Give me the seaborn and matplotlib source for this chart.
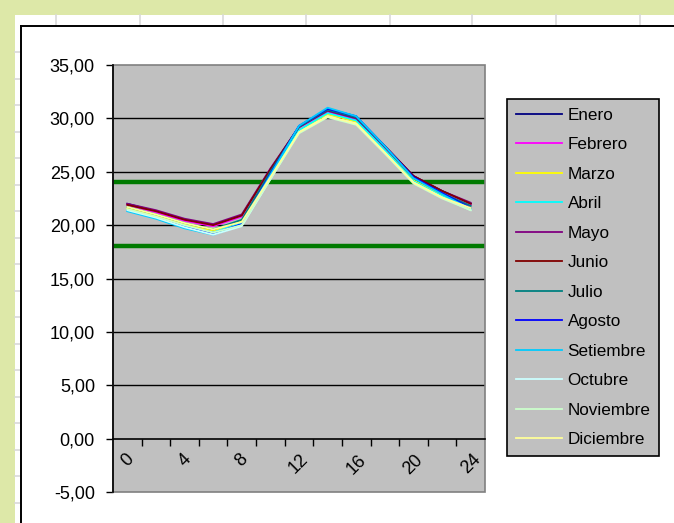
import matplotlib
matplotlib.use("Agg")
import matplotlib.pyplot as plt
from matplotlib.lines import Line2D
from matplotlib.patches import Rectangle
from matplotlib.ticker import FuncFormatter, FixedLocator
import seaborn as sns
import pandas as pd

plt.rcParams['font.family'] = ['Liberation Sans', 'DejaVu Sans']

# ---------------- data ----------------
hours = [0, 2, 4, 6, 8, 10, 12, 14, 16, 18, 20, 22, 24]
months = ["Enero", "Febrero", "Marzo", "Abril", "Mayo", "Junio", "Julio",
          "Agosto", "Setiembre", "Octubre", "Noviembre", "Diciembre"]
month_colors = ["#000080", "#FF00FF", "#FFFF00", "#00FFFF", "#800080", "#800000",
                "#008080", "#0000FF", "#00CCFF", "#CCFFFF", "#CCFFCC", "#FFFF99"]

enero     = [22.0, 21.3, 20.5, 20.0, 20.9, 25.2, 29.2, 30.7, 30.0, 27.3, 24.6, 23.2, 22.0]
febrero   = [21.9, 21.2, 20.4, 19.9, 20.8, 25.1, 29.1, 30.6, 29.9, 27.2, 24.5, 23.1, 21.9]
marzo     = [21.6, 20.9, 20.1, 19.5, 20.4, 24.8, 28.9, 30.4, 29.7, 27.0, 24.2, 22.8, 21.6]
abril     = [21.4, 20.7, 19.9, 19.3, 20.2, 24.7, 28.9, 30.5, 29.8, 27.0, 24.1, 22.7, 21.5]
mayo      = [22.0, 21.4, 20.6, 20.1, 21.0, 25.3, 29.2, 30.7, 30.0, 27.4, 24.6, 23.2, 22.1]
junio     = [21.9, 21.3, 20.5, 20.0, 20.9, 25.2, 29.2, 30.8, 30.1, 27.4, 24.6, 23.2, 22.0]
julio     = [21.7, 21.0, 20.2, 19.6, 20.5, 25.0, 29.2, 30.8, 30.1, 27.3, 24.4, 23.0, 21.8]
agosto    = [21.4, 20.7, 19.8, 19.2, 20.1, 24.8, 29.3, 30.9, 30.2, 27.4, 24.5, 23.0, 21.6]
setiembre = [21.3, 20.6, 19.7, 19.1, 20.0, 24.7, 29.3, 31.0, 30.2, 27.4, 24.4, 22.9, 21.5]
octubre   = [21.4, 20.7, 19.8, 19.1, 19.9, 24.3, 28.7, 30.2, 29.5, 26.8, 24.0, 22.6, 21.4]
noviembre = [21.5, 20.8, 20.0, 19.3, 20.0, 24.3, 28.6, 30.1, 29.4, 26.7, 23.9, 22.5, 21.4]
diciembre = [21.7, 21.0, 20.2, 19.6, 20.3, 24.5, 28.7, 30.2, 29.5, 26.8, 24.0, 22.6, 21.6]

series = [enero, febrero, marzo, abril, mayo, junio, julio, agosto,
          setiembre, octubre, noviembre, diciembre]

comfort_upper = 24.0
comfort_lower = 18.0

y_ticks = [-5, 0, 5, 10, 15, 20, 25, 30, 35]
x_label_hours = [0, 4, 8, 12, 16, 20, 24]

# --------------- long-form table ---------------
rows = []
for m, vals in zip(months, series):
    for i, (h, v) in enumerate(zip(hours, vals)):
        rows.append({"pos": i, "hora": h, "mes": m, "temp": v})
df = pd.DataFrame(rows)

# --------------- figure ---------------
W, H = 674, 523
fig = plt.figure(figsize=(W / 100, H / 100), dpi=100)
fig.patch.set_facecolor("white")

def fx(px):
    return px / W

def fy(py):
    return 1 - py / H

# spreadsheet background (lime frame + faint cell grid)
lime = "#DDE8A8"
fig.patches.append(Rectangle((0, fy(15)), 1, 15 / H, transform=fig.transFigure,
                             facecolor=lime, edgecolor="none", zorder=0))
fig.patches.append(Rectangle((0, 0), 15 / W, 1, transform=fig.transFigure,
                             facecolor=lime, edgecolor="none", zorder=0))
for gx in [56, 140, 223, 306, 390, 472, 556, 640]:
    fig.lines.append(Line2D([fx(gx), fx(gx)], [fy(15), fy(25)], transform=fig.transFigure,
                            color="#D9D9D9", lw=1.2, zorder=1))
for k in range(20):
    gy = 52 + 26.5 * k
    if gy < H:
        fig.lines.append(Line2D([fx(15), fx(21)], [fy(gy), fy(gy)], transform=fig.transFigure,
                                color="#D9D9D9", lw=1.2, zorder=1))
# chart border
fig.lines.append(Line2D([fx(21), 1], [fy(26), fy(26)], transform=fig.transFigure,
                        color="black", lw=1.4, zorder=2))
fig.lines.append(Line2D([fx(21), fx(21)], [fy(26), 0], transform=fig.transFigure,
                        color="black", lw=1.4, zorder=2))

# plot area
left, right, top, bottom = 113, 485, 65, 492
ax = fig.add_axes([fx(left), fy(bottom), (right - left) / W, (bottom - top) / H])
ax.set_facecolor("#C0C0C0")

ax.set_ylim(-5, 35)
ax.set_xlim(-0.5, len(hours) - 0.5)

# horizontal gridlines
for yv in y_ticks[2:-1]:
    ax.axhline(yv, color="black", lw=1.0, zorder=1)

# comfort band lines
ax.axhline(comfort_upper, color="#007A00", lw=3.2, zorder=2)
ax.axhline(comfort_lower, color="#007A00", lw=3.2, zorder=2)

sns.lineplot(data=df, x="pos", y="temp", hue="mes", hue_order=months,
             palette=month_colors, lw=1.3, ax=ax, zorder=3, legend="full")

# plot area border
ax.add_patch(Rectangle((0, 0), 1, 1, transform=ax.transAxes, fill=False,
                       edgecolor="#808080", lw=1.2, zorder=4, clip_on=False))

for s in ["top", "right"]:
    ax.spines[s].set_visible(False)
ax.spines["left"].set_color("black")
ax.spines["left"].set_linewidth(1.2)
ax.spines["left"].set_zorder(5)
ax.spines["bottom"].set_position(("data", 0))
ax.spines["bottom"].set_color("black")
ax.spines["bottom"].set_linewidth(1.2)
ax.spines["bottom"].set_zorder(5)

ax.set_yticks(y_ticks)
ax.yaxis.set_major_formatter(FuncFormatter(lambda v, p: f"{v:.2f}".replace(".", ",")))
ax.tick_params(axis="y", direction="out", length=5, width=1.0, pad=8,
               labelsize=13, colors="black")

label_pos = [hours.index(h) for h in x_label_hours]
ax.xaxis.set_major_locator(FixedLocator(label_pos))
ax.set_xticklabels([str(h) for h in x_label_hours])
ax.xaxis.set_minor_locator(FixedLocator([i + 0.5 for i in range(len(hours) - 1)]))
ax.tick_params(axis="x", which="major", length=0, pad=9, labelsize=13)
ax.tick_params(axis="x", which="minor", direction="out", length=5, width=1.0)
for t in ax.get_xticklabels():
    t.set_rotation(45)
    t.set_ha("center")
    t.set_va("top")

ax.set_xlabel("")
ax.set_ylabel("")

handles, labels = ax.get_legend_handles_labels()
if ax.get_legend() is not None:
    ax.get_legend().remove()
hl = [(h, l) for h, l in zip(handles, labels) if l in months]
leg = ax.legend([h for h, _ in hl], [l for _, l in hl],
                loc="upper left", bbox_to_anchor=(fx(507), fy(99)),
                bbox_transform=fig.transFigure, borderaxespad=0,
                fontsize=12.3, frameon=True, fancybox=False, shadow=False,
                facecolor="#C0C0C0", edgecolor="black", framealpha=1,
                labelspacing=0.85, handlelength=2.7, handletextpad=0.35,
                borderpad=0.5)
leg.get_frame().set_linewidth(1.2)
for lh in leg.get_lines():
    lh.set_linewidth(1.3)

fig.savefig("out.png", dpi=100, facecolor=fig.get_facecolor())
